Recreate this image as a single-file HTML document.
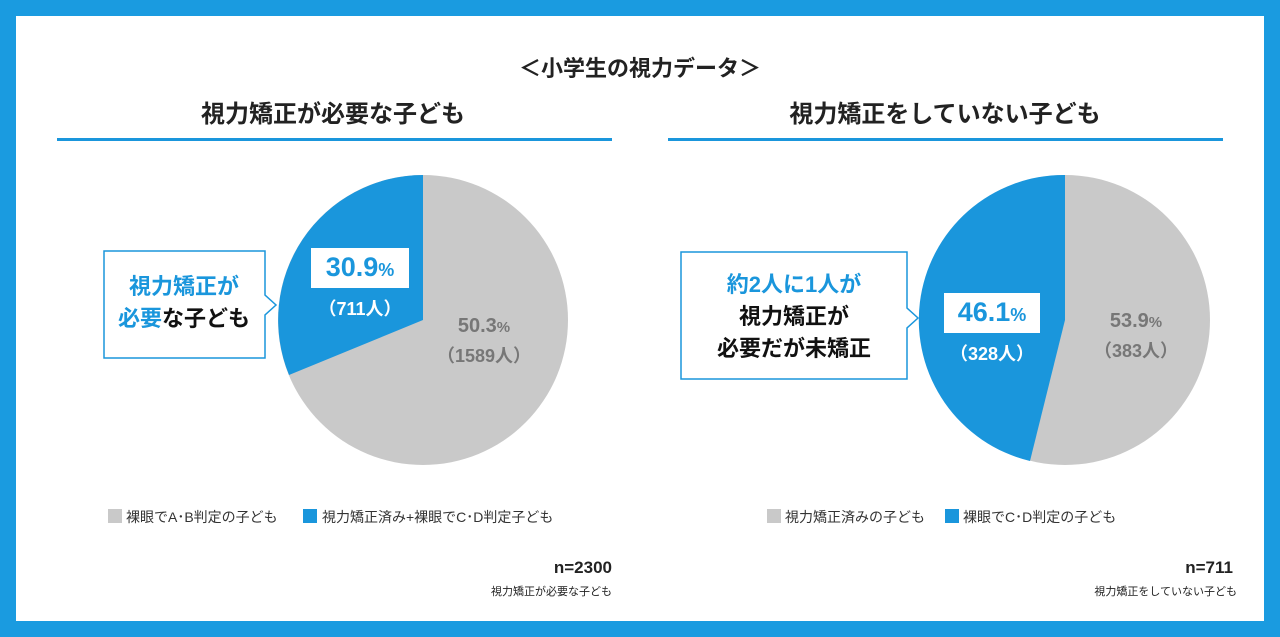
<!DOCTYPE html>
<html><head><meta charset="utf-8"><style>
body{margin:0;width:1280px;height:637px;background:#1a9be0;font-family:"Liberation Sans","Noto Sans CJK JP",sans-serif;overflow:hidden}
#in{position:absolute;left:16px;top:16px;width:1248px;height:605px;background:#fff}
.t{position:absolute;white-space:nowrap;font-weight:bold}
.c{transform:translateX(-50%)}
.r{transform:translateX(-100%);text-align:right}
.sq{position:absolute;width:14px;height:14px}
.lg{position:absolute;font-size:14px;color:#333;white-space:nowrap}
</style></head><body>
<div id="in"></div>
<svg width="1280" height="637" style="position:absolute;left:0;top:0">
<rect x="57" y="138" width="555" height="3" fill="#1a96dc"/>
<rect x="668" y="138" width="555" height="3" fill="#1a96dc"/>
<circle cx="423" cy="320" r="145" fill="#c9c9c9"/>
<path d="M423,320 L289,375 A145 145 0 0 1 423,175 Z" fill="#1a96dc"/>
<circle cx="1065" cy="320" r="145" fill="#c9c9c9"/>
<path d="M1065,320 L1030,461 A145 145 0 0 1 1065,175 Z" fill="#1a96dc"/>
<path d="M104,251 H265 V295 L276,305 L265,315 V358 H104 Z" fill="#fff" stroke="#1a96dc" stroke-width="1.5"/>
<path d="M681,252 H907 V308 L918,318 L907,328 V379 H681 Z" fill="#fff" stroke="#1a96dc" stroke-width="1.5"/>
<rect x="311" y="248" width="98" height="40" fill="#fff"/>
<rect x="944" y="293" width="96" height="40" fill="#fff"/>
</svg>
<div class="t c" style="left:640px;top:51px;font-size:22px;color:#222">＜小学生の視力データ＞</div>
<div class="t c" style="left:333px;top:94px;font-size:24px;color:#222">視力矯正が必要な子ども</div>
<div class="t c" style="left:945px;top:94px;font-size:24px;color:#222">視力矯正をしていない子ども</div>
<div class="t c" style="left:184px;top:271px;font-size:22px;line-height:32px;text-align:center"><span style="color:#1a96dc">視力矯正が</span><br><span style="color:#1a96dc">必要</span><span style="color:#111">な子ども</span></div>
<div class="t c" style="left:794px;top:269px;font-size:22px;line-height:32px;text-align:center;color:#111"><span style="color:#1a96dc">約2人に1人が</span><br>視力矯正が<br>必要だが未矯正</div>
<div class="t c" style="left:360px;top:252px;font-size:27px;color:#1a96dc">30.9<span style="font-size:18px">%</span></div>
<div class="t c" style="left:360px;top:295px;font-size:18px;color:#fff">（711人）</div>
<div class="t c" style="left:992px;top:297px;font-size:27px;color:#1a96dc">46.1<span style="font-size:18px">%</span></div>
<div class="t c" style="left:992px;top:340px;font-size:18px;color:#fff">（328人）</div>
<div class="t c" style="left:484px;top:315px;font-size:20px;color:#777">50.3<span style="font-size:15px">%</span></div>
<div class="t c" style="left:484px;top:342px;font-size:18px;color:#777">（1589人）</div>
<div class="t c" style="left:1136px;top:310px;font-size:20px;color:#777">53.9<span style="font-size:15px">%</span></div>
<div class="t c" style="left:1136px;top:337px;font-size:18px;color:#777">（383人）</div>
<div class="sq" style="left:108px;top:509px;background:#c9c9c9"></div>
<div class="lg" style="left:126px;top:507px">裸眼でA･B判定の子ども</div>
<div class="sq" style="left:303px;top:509px;background:#1a96dc"></div>
<div class="lg" style="left:322px;top:507px">視力矯正済み+裸眼でC･D判定子ども</div>
<div class="sq" style="left:767px;top:509px;background:#c9c9c9"></div>
<div class="lg" style="left:785px;top:507px">視力矯正済みの子ども</div>
<div class="sq" style="left:945px;top:509px;background:#1a96dc"></div>
<div class="lg" style="left:963px;top:507px">裸眼でC･D判定の子ども</div>
<div class="t r" style="left:612px;top:558px;font-size:17px;color:#222">n=2300</div>
<div class="t r" style="left:612px;top:583px;font-size:11px;font-weight:normal;color:#222">視力矯正が必要な子ども</div>
<div class="t r" style="left:1233px;top:558px;font-size:17px;color:#222">n=711</div>
<div class="t r" style="left:1237px;top:583px;font-size:11px;font-weight:normal;color:#222">視力矯正をしていない子ども</div>
</body></html>
